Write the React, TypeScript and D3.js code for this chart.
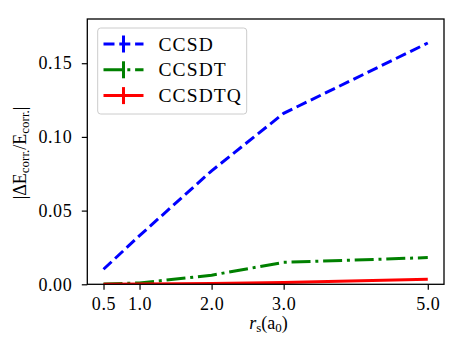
import React, { useRef, useEffect } from "react";
import * as d3 from "d3";

const rs = [0.5, 1.0, 2.0, 3.0, 5.0];
const ccsd = [0.0102, 0.033, 0.077, 0.116, 0.1637];
const ccsdt = [0.0002, 0.0009, 0.0062, 0.0149, 0.0181];
const ccsdtq = [0.0, 0.0002, 0.0006, 0.0013, 0.0034];
const xTicks = [0.5, 1.0, 2.0, 3.0, 5.0];
const yTicks = [0.0, 0.05, 0.1, 0.15];

const series = [
  { name: "CCSD", values: ccsd, color: "#0000ff", dash: "11,4.8" },
  { name: "CCSDT", values: ccsdt, color: "#008000", dash: "19,4.8,3,4.8" },
  { name: "CCSDTQ", values: ccsdtq, color: "#ff0000", dash: null },
];

const FONT = "Liberation Serif, DejaVu Serif, serif";

const App = () => {
  const ref = useRef<SVGSVGElement>(null);

  useEffect(() => {
    const svg = d3.select(ref.current);
    svg.selectAll("*").remove();
    const width = 464;
    const height = 356;
    const left = 87.3, right = 444, top = 19, bottom = 284.3;

    svg.attr("width", width).attr("height", height);
    svg.append("rect").attr("width", width).attr("height", height).attr("fill", "white");

    const x = d3.scaleLinear().domain([0.275, 5.225]).range([left, right]);
    const y = d3.scaleLinear().domain([0, 0.18]).range([bottom, top]);

    // clip so lines stay inside axes
    svg.append("defs").append("clipPath").attr("id", "plotclip")
      .append("rect").attr("x", left).attr("y", top - 2).attr("width", right - left).attr("height", bottom - top + 2);

    const line = d3.line<number>()
      .x((d, i) => x(rs[i]))
      .y((d) => y(d));

    const plot = svg.append("g").attr("clip-path", "url(#plotclip)");
    series.forEach((s) => {
      plot.append("path")
        .attr("d", line(s.values))
        .attr("fill", "none")
        .attr("stroke", s.color)
        .attr("stroke-width", 3)
        .attr("stroke-dasharray", s.dash ?? null);
    });

    // axes
    const xAxis = svg.append("g").attr("transform", `translate(0,${bottom})`)
      .call(d3.axisBottom(x).tickValues(xTicks).tickFormat(d3.format(".1f")).tickSize(5.5).tickPadding(7));
    const yAxis = svg.append("g").attr("transform", `translate(${left},0)`)
      .call(d3.axisLeft(y).tickValues(yTicks).tickFormat(d3.format(".2f")).tickSize(5.5).tickPadding(9.5));
    [xAxis, yAxis].forEach((a) => {
      a.select(".domain").remove();
      a.selectAll(".tick line").attr("stroke", "black").attr("stroke-width", 1.2);
      a.selectAll(".tick text")
        .attr("font-family", FONT).attr("font-size", 18)
        .attr("letter-spacing", 0.6).attr("fill", "black");
    });

    svg.append("rect")
      .attr("x", left).attr("y", top)
      .attr("width", right - left).attr("height", bottom - top)
      .attr("fill", "none").attr("stroke", "black").attr("stroke-width", 1.3);

    // legend
    const lg = svg.append("g");
    lg.append("rect")
      .attr("x", 97.7).attr("y", 28).attr("width", 149).attr("height", 86)
      .attr("rx", 3).attr("fill", "white").attr("fill-opacity", 0.8)
      .attr("stroke", "#cccccc").attr("stroke-width", 1);
    series.forEach((s, i) => {
      const cy = 44 + i * 25.8;
      lg.append("line")
        .attr("x1", 103.5).attr("x2", 143.5).attr("y1", cy).attr("y2", cy)
        .attr("stroke", s.color).attr("stroke-width", 3)
        .attr("stroke-dasharray", s.dash ?? null);
      lg.append("line")
        .attr("x1", 123.5).attr("x2", 123.5).attr("y1", cy - 8.5).attr("y2", cy + 8.5)
        .attr("stroke", s.color).attr("stroke-width", 3);
      lg.append("text")
        .attr("x", 158.5).attr("y", cy + 6.5)
        .attr("font-family", FONT).attr("font-size", 19.5)
        .attr("letter-spacing", 1.1)
        .text(s.name);
    });

    // x label
    const xl = svg.append("text")
      .attr("x", 268.5).attr("y", 329)
      .attr("text-anchor", "middle")
      .attr("font-family", FONT).attr("font-size", 18);
    xl.append("tspan").attr("font-style", "italic").text("r");
    xl.append("tspan").attr("font-size", 13).attr("dy", 3).text("s");
    xl.append("tspan").attr("dy", -3).text("(a");
    xl.append("tspan").attr("font-size", 13).attr("dy", 3).text("0");
    xl.append("tspan").attr("dy", -3).text(")");

    // y label
    const yl = svg.append("text")
      .attr("transform", `translate(26,153) rotate(-90)`)
      .attr("text-anchor", "middle")
      .attr("font-family", FONT).attr("font-size", 18);
    yl.append("tspan").text("|ΔE");
    yl.append("tspan").attr("font-size", 13).attr("dy", 3).text("corr.");
    yl.append("tspan").attr("dy", -3).text("/E");
    yl.append("tspan").attr("font-size", 13).attr("dy", 3).text("corr.");
    yl.append("tspan").attr("dy", -3).text("|");
  }, []);

  return (
    <div style={{ position: "absolute", left: 0, top: 0 }}>
      <svg ref={ref} style={{ display: "block" }}></svg>
    </div>
  );
};

export default App;
